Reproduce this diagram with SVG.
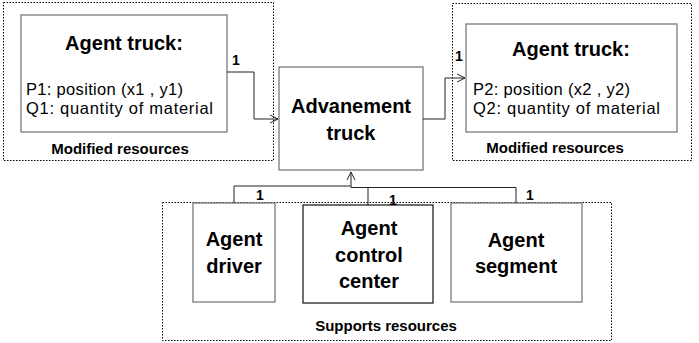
<svg xmlns="http://www.w3.org/2000/svg" width="699" height="343" viewBox="0 0 699 343">
<defs>
<style>
text{font-family:"Liberation Sans",Arial,sans-serif;fill:#000}
.t{font-size:20px;font-weight:bold;text-anchor:middle}
.p{font-size:16.5px}
.lbl{font-size:15px;font-weight:bold;text-anchor:middle}
.one{font-size:14px;font-weight:bold}
.grp{fill:none;stroke:#000;stroke-width:1;stroke-dasharray:1.5,1.5}
.box{fill:#fff;stroke:#7a7a7a;stroke-width:1.3}
.boxd{fill:#fff;stroke:#222;stroke-width:1.3}
.c{fill:none;stroke:#222;stroke-width:1}
</style>
<marker id="ar" markerWidth="10" markerHeight="10" refX="9" refY="5" orient="auto" markerUnits="userSpaceOnUse">
<path d="M1,1 L9,5 L1,9" fill="none" stroke="#222" stroke-width="1"/>
</marker>
</defs>

<g id="modified-left">
<rect class="grp" x="3.5" y="2.5" width="270" height="158"/>
<rect class="box" x="21" y="15" width="206" height="117"/>
<text class="t" x="124" y="50">Agent truck:</text>
<text class="p" x="26" y="95" textLength="157" lengthAdjust="spacing">P1: position (x1 , y1)</text>
<text class="p" x="26" y="114" textLength="187" lengthAdjust="spacing">Q1: quantity of material</text>
<text class="lbl" x="120" y="154">Modified resources</text>
</g>

<g id="modified-right">
<rect class="grp" x="452.5" y="3.5" width="239" height="157"/>
<rect class="box" x="466" y="24" width="211" height="108"/>
<text class="t" x="571" y="56">Agent truck:</text>
<text class="p" x="473" y="95" textLength="157" lengthAdjust="spacing">P2: position (x2 , y2)</text>
<text class="p" x="473" y="114" textLength="187" lengthAdjust="spacing">Q2: quantity of material</text>
<text class="lbl" x="555" y="153">Modified resources</text>
</g>

<g id="advancement">
<rect class="box" x="279" y="67" width="144" height="103"/>
<text class="t" x="351" y="113">Advanement</text>
<text class="t" x="351" y="140">truck</text>
</g>

<g id="supports">
<rect class="grp" x="162.5" y="202.5" width="449" height="138"/>
<text class="lbl" x="386" y="331">Supports resources</text>
</g>

<g id="driver">
<rect class="box" x="193" y="203" width="82" height="99"/>
<text class="t" x="234" y="246">Agent</text>
<text class="t" x="234" y="273">driver</text>
</g>

<g id="control-center">
<rect class="boxd" x="303" y="205" width="130" height="98"/>
<text class="t" x="369" y="235">Agent</text>
<text class="t" x="369" y="262">control</text>
<text class="t" x="369" y="288">center</text>
</g>

<g id="segment">
<rect class="box" x="451" y="203" width="131" height="99"/>
<text class="t" x="516" y="247">Agent</text>
<text class="t" x="516" y="273">segment</text>
</g>

<g id="connectors">
<path class="c" d="M227,72 H254 V119 H278" marker-end="url(#ar)"/>
<path class="c" d="M423,119 H445 V78 H465" marker-end="url(#ar)"/>
<path class="c" d="M234,203 V186 H351"/>
<path class="c" d="M516,203 V187.5 H351 V172" marker-end="url(#ar)"/>
<path class="c" d="M368,187.5 V205"/>
<text class="one" x="232" y="65">1</text>
<text class="one" x="455" y="61">1</text>
<text class="one" x="256" y="200">1</text>
<text class="one" x="389" y="205">1</text>
<text class="one" x="526" y="200">1</text>
</g>
</svg>
